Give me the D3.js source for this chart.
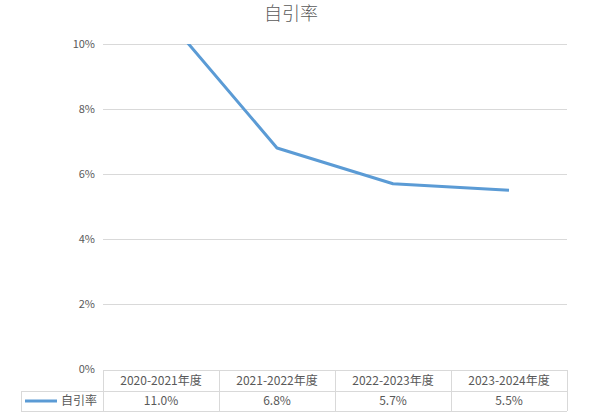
<!DOCTYPE html>
<html><head><meta charset="utf-8">
<script src="https://cdn.jsdelivr.net/npm/d3@7"></script>
<style>body{margin:0;background:#fff;}svg{display:block;font-family:"Microsoft YaHei","Noto Sans CJK SC","DejaVu Sans",sans-serif;}</style>
</head><body><svg id="c" width="608" height="415"></svg>
<script>
const categories = ["2020-2021年度","2021-2022年度","2022-2023年度","2023-2024年度"];
const values = [11.0, 6.8, 5.7, 5.5];
const valueLabels = ["11.0%","6.8%","5.7%","5.5%"];
const yTicks = [0,2,4,6,8,10];
const seriesName = "自引率";
const title = "自引率";

const svg = d3.select("#c");
const L = 103, R = 567, T = 44, B = 369;
const x = d3.scaleBand().domain(categories).range([L, R]);
const y = d3.scaleLinear().domain([0, 10]).range([B, T]);
const grey = "#595959", gridC = "#d9d9d9", lineC = "#5b9bd5";

svg.append("text").attr("x", 291).attr("y", 20).attr("text-anchor","middle")
  .attr("font-size", 18).attr("font-weight", 300).attr("fill", grey).text(title);

svg.append("g").selectAll("line").data(yTicks.filter(d=>d>0)).join("line")
  .attr("x1", L).attr("x2", R).attr("y1", d=>Math.round(y(d))+0.5).attr("y2", d=>Math.round(y(d))+0.5)
  .attr("stroke", gridC).attr("stroke-width", 1);

svg.append("g").selectAll("text").data(yTicks).join("text")
  .attr("x", 95).attr("y", d=>y(d)+4).attr("text-anchor","end")
  .attr("font-size", 11).attr("fill", grey).text(d=>d+"%");

svg.append("defs").append("clipPath").attr("id","clip").append("rect")
  .attr("x", L).attr("y", T).attr("width", R-L).attr("height", B-T);

const line = d3.line().x((d,i)=>x(categories[i])+x.bandwidth()/2).y(d=>y(d));
svg.append("path").datum(values).attr("d", line).attr("clip-path","url(#clip)")
  .attr("fill","none").attr("stroke", lineC).attr("stroke-width", 3).attr("stroke-linejoin","round");

// data table
const rowTop = 370, rowMid = 391, rowBot = 411, tableLeft = 21;
const tg = svg.append("g").attr("stroke", gridC).attr("stroke-width",1);
tg.append("line").attr("x1", L).attr("x2", R).attr("y1", rowTop+0.5).attr("y2", rowTop+0.5);
tg.append("line").attr("x1", tableLeft).attr("x2", R).attr("y1", rowMid+0.5).attr("y2", rowMid+0.5);
tg.append("line").attr("x1", tableLeft).attr("x2", R).attr("y1", rowBot+0.5).attr("y2", rowBot+0.5);
tg.append("line").attr("x1", tableLeft+0.5).attr("x2", tableLeft+0.5).attr("y1", rowMid).attr("y2", rowBot);
[...categories.map(c=>x(c)), R].forEach(v=>{
  tg.append("line").attr("x1", Math.round(v)+0.5).attr("x2", Math.round(v)+0.5).attr("y1", rowTop).attr("y2", rowBot);
});
svg.append("g").selectAll("text").data(categories).join("text")
  .attr("x", d=>x(d)+x.bandwidth()/2).attr("y", 385).attr("text-anchor","middle")
  .attr("font-size", 12).attr("fill", grey).text(d=>d);
svg.append("g").selectAll("text").data(valueLabels).join("text")
  .attr("x", (d,i)=>x(categories[i])+x.bandwidth()/2).attr("y", 405).attr("text-anchor","middle")
  .attr("font-size", 12).attr("fill", grey).text(d=>d);
svg.append("line").attr("x1", 25).attr("x2", 57).attr("y1", 401).attr("y2", 401)
  .attr("stroke", lineC).attr("stroke-width", 3);
svg.append("text").attr("x", 61).attr("y", 405).attr("font-size", 12).attr("fill", grey).text(seriesName);
</script></body></html>
